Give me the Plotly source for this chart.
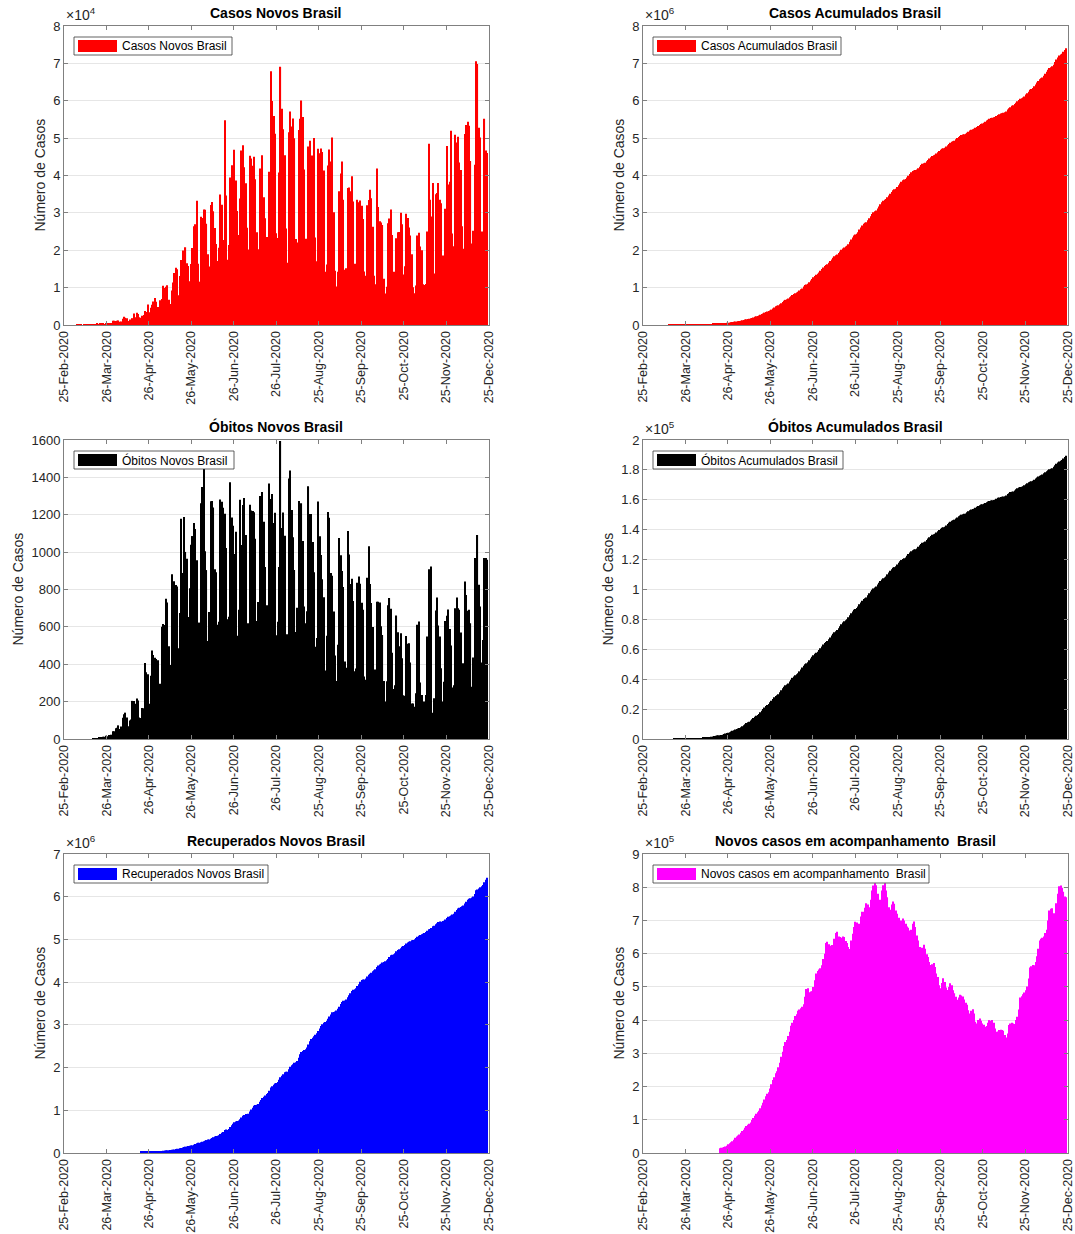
import pandas as pd
import plotly.graph_objects as go

# ---------------- data (Brazil, daily, 25-Feb-2020 .. 24-Dec-2020) ----------------
START = "2020-02-25"
tick_labels = ["25-Feb-2020", "26-Mar-2020", "26-Apr-2020", "26-May-2020", "26-Jun-2020",
               "26-Jul-2020", "25-Aug-2020", "25-Sep-2020", "25-Oct-2020", "25-Nov-2020",
               "25-Dec-2020"]

cases_feb = [0, 1, 0, 0, 1]
cases_mar = [0, 0, 0, 1, 5, 5, 6, 6, 0, 9, 18, 25, 21, 23, 79, 34, 57, 137, 193, 283,
             224, 418, 345, 310, 232, 482, 502, 487, 352, 323, 1138]
cases_apr = [1119, 1074, 1146, 1222, 852, 926, 1661, 2210, 1930, 1781, 1089, 1442, 1261, 1832,
             3058, 2105, 3257, 2917, 2055, 1927, 2498, 2678, 3735, 3503, 5514, 3379, 4613, 5385,
             6276, 7218]
cases_may = [6209, 4807, 4751, 6633, 6935, 10503, 9888, 10222, 10611, 6760, 5632, 9258, 11385,
             13944, 15305, 14919, 7938, 13140, 17408, 19951, 18508, 20803, 16508, 15813, 11687,
             16324, 20599, 26417, 26928, 33274, 16409]
cases_jun = [11598, 28936, 28633, 30925, 30830, 27075, 18912, 15654, 32091, 32913, 30412, 25982,
             21704, 17110, 20647, 34918, 32188, 22765, 54771, 34666, 17459, 21432, 39436, 42725,
             39483, 46860, 38693, 30476, 24052, 33846]
cases_jul = [46712, 48105, 42223, 37923, 26051, 20229, 45305, 44571, 42619, 45048, 39023, 24831,
             20286, 41857, 39924, 45403, 34177, 28532, 23529, 20257, 41008, 67860, 59961, 55891,
             51147, 24578, 23284, 40816, 69074, 57837, 52383]
cases_aug = [45392, 25800, 16641, 51603, 57152, 53139, 55230, 49970, 23010, 22048, 52160, 55155,
             60091, 55644, 41576, 23101, 19373, 47784, 49298, 45323, 45355, 50032, 23421, 17078,
             47134, 45961, 47235, 46307, 41350, 14279, 16158]
cases_sep = [42659, 46934, 43773, 50163, 30168, 14521, 10273, 14279, 35816, 40557, 43718, 33523,
             14768, 15155, 36653, 36820, 35757, 39797, 33057, 16389, 13439, 33536, 32817, 33281,
             31911, 28378, 14318, 13155, 32058, 33413]
cases_oct = [36157, 33922, 26310, 13155, 10920, 41906, 31553, 27750, 27444, 26749, 12342, 8426,
             10220, 27235, 28523, 30914, 24062, 14217, 12059, 23227, 24818, 24858, 30026, 26979,
             13493, 15726, 29787, 28629, 26106, 23976, 18947]
cases_nov = [10100, 8501, 10554, 23976, 24700, 21000, 20000, 10900, 10700, 11000, 25000, 48500,
             33500, 29000, 38000, 13800, 35000, 35300, 38000, 33500, 32600, 18600, 15600, 31100,
             47900, 37600, 38300, 52000, 24500, 21100]
cases_dec = [50909, 48800, 50400, 43500, 41500, 26400, 20400, 51100, 53500, 54400, 53300, 43900,
             21800, 25200, 42900, 70600, 69800, 52800, 50200, 25000, 23000, 55200, 46700, 46000]

deaths_feb = [0, 0, 0, 0, 0]
deaths_mar = [0, 0, 0, 0, 0, 0, 0, 0, 0, 0, 0, 0, 0, 0, 0, 0,
              1, 3, 3, 4, 7, 7, 9, 12, 12, 18, 15, 22, 22, 23, 42]
deaths_apr = [42, 58, 60, 73, 54, 67, 114, 133, 141, 115, 68, 99, 105, 204, 204, 188, 217, 206,
              115, 113, 166, 165, 407, 357, 346, 189, 338, 474, 449, 435]
deaths_may = [428, 421, 275, 296, 600, 615, 610, 751, 730, 496, 396, 881, 749, 844, 824, 816, 485,
              674, 1179, 888, 1188, 1001, 965, 653, 807, 1039, 1086, 1156, 1124, 956, 480]
deaths_jun = [623, 1262, 1349, 1473, 1005, 904, 525, 679, 1272, 1274, 1239, 909, 892, 612, 627,
              1282, 1269, 1238, 1206, 1022, 641, 654, 1374, 1185, 1141, 990, 1109, 552, 692, 1280]
deaths_jul = [1038, 1252, 1290, 1091, 602, 620, 1254, 1223, 1220, 1214, 1071, 631, 733, 1300,
              1233, 1322, 1163, 921, 716, 632, 1367, 1284, 1311, 1156, 1211, 555, 627, 921, 1595,
              1129, 1212]
deaths_aug = [1088, 541, 561, 1394, 1437, 1226, 1079, 905, 572, 703, 1274, 1175, 1262, 1060, 709,
              620, 684, 1352, 1204, 1204, 1054, 892, 494, 541, 1271, 1085, 984, 855, 758, 366, 553]
deaths_sep = [1215, 1184, 888, 874, 682, 447, 310, 504, 1075, 983, 899, 814, 415, 381, 1113, 987,
              829, 858, 739, 363, 377, 836, 869, 831, 729, 691, 335, 317, 863, 1031]
deaths_oct = [830, 728, 599, 366, 372, 734, 734, 730, 603, 556, 310, 201, 309, 716, 754, 697, 461,
              267, 287, 661, 571, 496, 566, 432, 234, 231, 551, 510, 513, 409, 190]
deaths_nov = [190, 173, 245, 611, 629, 302, 236, 129, 200, 236, 548, 909, 459, 923, 141, 218, 688,
              757, 607, 548, 379, 200, 307, 632, 659, 693, 588, 500, 275, 288]
deaths_dec = [700, 757, 700, 691, 570, 316, 405, 843, 771, 686, 691, 620, 280, 436, 968, 923, 1092,
              825, 709, 409, 530, 968, 968, 959]

# active cases ("em acompanhamento"), reported from 20-Apr-2020
ACTIVE_START = "2020-04-20"
active_apr = [14000, 15500, 16500, 18000, 19500, 22000, 26000, 29000, 32000, 35000, 40000]
active_may = [46000, 50000, 53000, 56000, 61000, 66000, 70000, 76000, 81000, 85000, 88000, 92000,
              99000, 105000, 112000, 118000, 123000, 127000, 135000, 143000, 151000, 161000,
              171000, 178000, 183000, 194000, 207000, 220000, 228000, 240000, 246000]
active_jun = [258000, 272000, 290000, 305000, 322000, 334000, 340000, 352000, 365000, 383000,
              392000, 400000, 412000, 418000, 428000, 432000, 436000, 440000, 448000, 470000,
              494000, 496000, 484000, 486000, 487000, 500000, 520000, 540000, 548000, 552000]
active_jul = [556000, 565000, 584000, 600000, 632000, 636000, 628000, 624000, 626000, 626000,
              645000, 662000, 666000, 652000, 650000, 648000, 652000, 650000, 638000, 632000,
              620000, 614000, 640000, 660000, 680000, 696000, 694000, 680000, 690000, 712000,
              726000]
active_aug = [726000, 738000, 752000, 748000, 740000, 762000, 790000, 805000, 812000, 806000,
              780000, 756000, 762000, 790000, 806000, 812000, 790000, 770000, 740000, 732000,
              748000, 757000, 750000, 730000, 720000, 708000, 697000, 700000, 706000, 700000,
              690000]
active_sep = [682000, 678000, 670000, 672000, 690000, 697000, 680000, 655000, 640000, 620000,
              612000, 618000, 627000, 615000, 598000, 590000, 575000, 566000, 568000, 572000,
              560000, 540000, 530000, 505000, 496000, 512000, 526000, 515000, 498000, 491000]
active_oct = [500000, 511000, 505000, 490000, 481000, 470000, 461000, 468000, 476000, 474000,
              471000, 462000, 452000, 446000, 430000, 420000, 428000, 433000, 420000, 395000,
              390000, 400000, 405000, 398000, 390000, 386000, 380000, 382000, 392000, 400000,
              398000]
active_nov = [400000, 392000, 375000, 365000, 366000, 370000, 371000, 370000, 368000, 355000,
              348000, 360000, 385000, 390000, 392000, 390000, 388000, 400000, 410000, 432000,
              468000, 472000, 478000, 483000, 490000, 501000, 525000, 558000, 562000, 566000]
active_dec = [565000, 575000, 592000, 615000, 640000, 645000, 648000, 652000, 662000, 672000,
              700000, 730000, 735000, 737000, 722000, 705000, 752000, 780000, 803000, 805000,
              798000, 786000, 772000, 770000]

# ---------------- derived series ----------------
new_cases = (cases_feb + cases_mar + cases_apr + cases_may + cases_jun + cases_jul + cases_aug
             + cases_sep + cases_oct + cases_nov + cases_dec)
new_deaths = (deaths_feb + deaths_mar + deaths_apr + deaths_may + deaths_jun + deaths_jul
              + deaths_aug + deaths_sep + deaths_oct + deaths_nov + deaths_dec)
active = (active_apr + active_may + active_jun + active_jul + active_aug + active_sep
          + active_oct + active_nov + active_dec)

if len(new_cases) != len(new_deaths):
    raise ValueError(f"length mismatch {len(new_cases)} {len(new_deaths)}")

dates = pd.date_range(START, periods=len(new_cases), freq="D")
s_cases = pd.Series(new_cases, index=dates)
s_deaths = pd.Series(new_deaths, index=dates)
cum_cases = s_cases.cumsum()
cum_deaths = s_deaths.cumsum()
act_dates = pd.date_range(ACTIVE_START, periods=len(active), freq="D")
s_active = pd.Series(active, index=act_dates)
recovered = cum_cases.loc[act_dates] - cum_deaths.loc[act_dates] - s_active

# ---------------- layout geometry (pixels) ----------------
W, H = 1075, 1234
FONT = "Liberation Sans, Arial, Helvetica, sans-serif"
TXT = "#262626"
AXC = "#808080"
COLS = [(64, 488.7), (643, 1067.7)]
ROWS = [(26, 325), (440, 739), (854, 1153)]

def px_x(p):
    return p / W

def px_y(p):
    return 1 - p / H

x_min = pd.Timestamp("2020-02-25")
x_max = pd.Timestamp("2020-12-25")
tick_vals = [(x_min + pd.Timedelta(days=30.4 * k)).strftime("%Y-%m-%d %H:%M:%S") for k in range(11)]

panels = [
    dict(x=dates, y=s_cases.values, color="#FF0000", title="Casos Novos Brasil",
         ymax=80000, step=10000, scale=1e4, exp="4", legw=158, ylab=25),
    dict(x=dates, y=cum_cases.values, color="#FF0000", title="Casos Acumulados Brasil",
         ymax=8e6, step=1e6, scale=1e6, exp="6", legw=188, ylab=25),
    dict(x=dates, y=s_deaths.values, color="#000000", title="Óbitos Novos Brasil",
         ymax=1600, step=200, scale=1, exp=None, legw=160, ylab=47),
    dict(x=dates, y=cum_deaths.values, color="#000000", title="Óbitos Acumulados Brasil",
         ymax=2e5, step=2e4, scale=1e5, exp="5", legw=190, ylab=36),
    dict(x=act_dates, y=recovered.values, color="#0000FF", title="Recuperados Novos Brasil",
         ymax=7e6, step=1e6, scale=1e6, exp="6", legw=194, ylab=25),
    dict(x=act_dates, y=s_active.values, color="#FF00FF",
         title="Novos casos em acompanhamento \u00a0Brasil",
         ymax=9e5, step=1e5, scale=1e5, exp="5", legw=276, ylab=25),
]

fig = go.Figure()
layout = dict(width=W, height=H, margin=dict(l=0, r=0, t=0, b=0, autoexpand=False),
              paper_bgcolor="white", plot_bgcolor="white", showlegend=False,
              bargap=0.2, font=dict(family=FONT, color=TXT, size=13))
shapes = []
annotations = []

for i, p in enumerate(panels):
    n = i + 1
    r, c = divmod(i, 2)
    xl, xr = COLS[c]
    yt, yb = ROWS[r]
    xa = "x" if n == 1 else f"x{n}"
    ya = "y" if n == 1 else f"y{n}"
    fig.add_trace(go.Bar(x=p["x"], y=p["y"], marker=dict(color=p["color"], line=dict(width=0)),
                         xaxis=xa, yaxis=ya, name=p["title"], hoverinfo="x+y"))
    nticks = int(round(p["ymax"] / p["step"]))
    yvals = [k * p["step"] for k in range(nticks + 1)]
    ytext = [f"{v / p['scale']:g}" for v in yvals]
    layout["xaxis" if n == 1 else f"xaxis{n}"] = dict(
        domain=[px_x(xl), px_x(xr)], anchor=ya, type="date", automargin=False,
        range=[x_min.strftime("%Y-%m-%d"), x_max.strftime("%Y-%m-%d")],
        tickmode="array", tickvals=tick_vals, ticktext=tick_labels, tickangle=-90,
        ticks="inside", ticklen=4, tickcolor=AXC, showline=True, linecolor=AXC, linewidth=1,
        mirror="ticks", showgrid=False, zeroline=False,
        tickfont=dict(family=FONT, size=12.5, color=TXT))
    layout["yaxis" if n == 1 else f"yaxis{n}"] = dict(
        domain=[px_y(yb), px_y(yt)], anchor=xa, range=[0, p["ymax"]], automargin=False,
        tickmode="array", tickvals=yvals, ticktext=ytext,
        ticks="inside", ticklen=4, tickcolor=AXC, showline=True, linecolor=AXC, linewidth=1,
        mirror="ticks", showgrid=True, gridcolor="#e6e6e6", gridwidth=1, zeroline=False,
        tickfont=dict(family=FONT, size=13, color=TXT))
    # y-axis label
    annotations.append(dict(text="Número de Casos", xref="paper", yref="paper",
                            x=px_x(xl - p["ylab"]), y=px_y((yt + yb) / 2), textangle=-90,
                            xanchor="center", yanchor="middle", showarrow=False,
                            font=dict(family=FONT, size=14, color=TXT)))
    # title
    annotations.append(dict(text=f"<b>{p['title']}</b>", xref="paper", yref="paper",
                            x=px_x((xl + xr) / 2), y=px_y(yt - 3), xanchor="center",
                            yanchor="bottom", showarrow=False,
                            font=dict(family=FONT, size=14, color="#000000")))
    # exponent
    if p["exp"]:
        annotations.append(dict(text=f"\u00d710<sup>{p['exp']}</sup>", xref="paper", yref="paper",
                                x=px_x(xl), y=px_y(yt - 1), xanchor="left", yanchor="bottom",
                                showarrow=False, font=dict(family=FONT, size=14, color=TXT)))
    # legend box
    shapes.append(dict(type="rect", xref="paper", yref="paper",
                       x0=px_x(xl + 10), x1=px_x(xl + 10 + p["legw"]),
                       y0=px_y(yt + 11), y1=px_y(yt + 29),
                       fillcolor="white", line=dict(color="#3a3a3a", width=0.8), layer="above"))
    shapes.append(dict(type="rect", xref="paper", yref="paper",
                       x0=px_x(xl + 14), x1=px_x(xl + 53),
                       y0=px_y(yt + 14), y1=px_y(yt + 26),
                       fillcolor=p["color"], line=dict(width=0), layer="above"))
    annotations.append(dict(text=p["title"], xref="paper", yref="paper",
                            x=px_x(xl + 56), y=px_y(yt + 20), xanchor="left", yanchor="middle",
                            showarrow=False, font=dict(family=FONT, size=12, color="#000000")))

layout["shapes"] = shapes
layout["annotations"] = annotations
fig.update_layout(**layout)
fig.write_html("out.html", config={"displayModeBar": False},
               post_script="document.body.style.margin='0px';document.body.style.overflow='hidden';")
